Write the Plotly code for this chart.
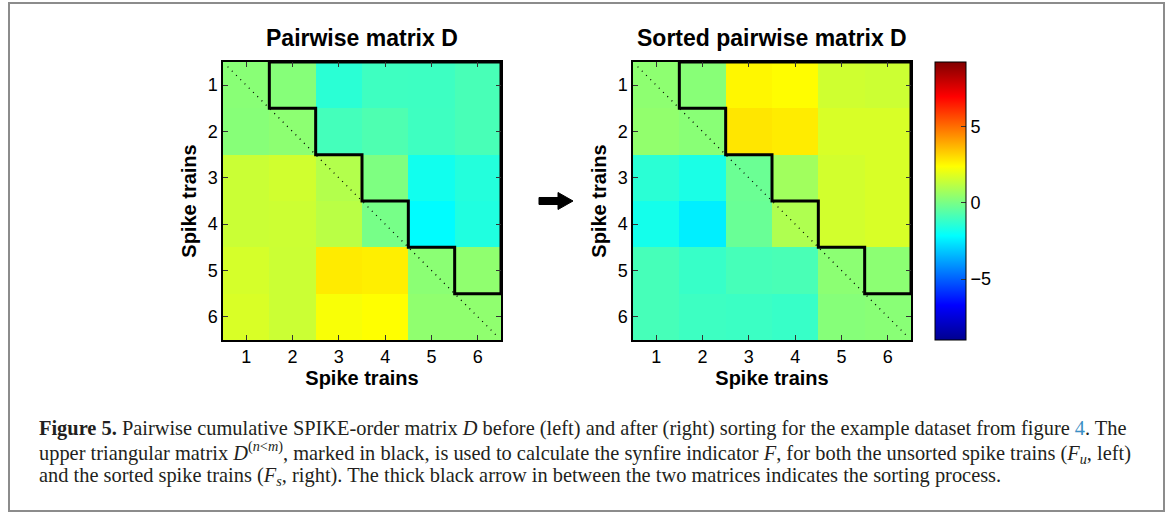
import plotly.graph_objects as go

W, H = 1171, 513

# Spike train indices (rows / columns of the matrices)
trains = [1, 2, 3, 4, 5, 6]
tick_labels = ["1", "2", "3", "4", "5", "6"]

# Pairwise cumulative SPIKE-order matrix D (unsorted), row-major, top row first
D_unsorted = [
    [0.30, 0.24, -1.41, -1.04, -1.06, -0.87],
    [0.26, 0.36, -0.94, -0.76, -1.04, -0.87],
    [1.45, 1.57, 1.04, 0.09, -1.85, -1.53],
    [1.45, 1.50, 1.17, -0.03, -2.20, -1.60],
    [1.65, 1.48, 2.76, 2.70, 0.33, 0.42],
    [1.73, 1.48, 2.30, 2.40, 0.42, 0.42],
]

# Same matrix after sorting the spike trains
D_sorted = [
    [0.38, 0.27, 2.55, 2.45, 1.55, 1.50],
    [0.45, 0.30, 2.85, 2.75, 1.70, 1.70],
    [-1.40, -1.70, -0.25, 0.72, 1.60, 1.70],
    [-1.80, -2.45, -0.28, 0.97, 1.60, 1.70],
    [-0.90, -1.17, -0.90, -0.85, 0.35, 0.35],
    [-0.90, -1.07, -1.10, -1.17, 0.24, 0.29],
]

color_min, color_max = -9.0, 9.25
colorbar_ticks = [-5, 0, 5]

panel_titles = ["Pairwise matrix D", "Sorted pairwise matrix D"]
axis_title = "Spike trains"

caption_lines = [
    "<b>Figure 5.</b> Pairwise cumulative SPIKE-order matrix <i>D</i> before (left) and after (right) "
    "sorting for the example dataset from figure <span style='color:#3b8fc4'>4</span>. The",
    "upper triangular matrix <i>D</i><sup>(<i>n</i>&lt;<i>m</i>)</sup>, marked in black, is used to "
    "calculate the synfire indicator <i>F</i>, for both the unsorted spike trains (<i>F</i><sub><i>u</i></sub>, left)",
    "and the sorted spike trains (<i>F</i><sub><i>s</i></sub>, right). The thick black arrow in between "
    "the two matrices indicates the sorting process.",
]

# MATLAB-style jet colormap
jet = [
    [0.0, "rgb(0,0,143)"],
    [0.125, "rgb(0,0,255)"],
    [0.375, "rgb(0,255,255)"],
    [0.625, "rgb(255,255,0)"],
    [0.875, "rgb(255,0,0)"],
    [1.0, "rgb(128,0,0)"],
]


def px(x):
    return x / W


def py(y):
    return 1 - y / H


# Panel placement in pixels
panel_left = [223, 633]
panel_w = 278
panel_top, panel_bottom = 62, 340

SANS = "Liberation Sans, Arial, sans-serif"
SERIF = "Liberation Serif, Times New Roman, serif"

fig = go.Figure()

# Staircase outline of the upper triangle (n < m)
n = len(trains)
stair_x = [1.5, n + 0.5, n + 0.5]
stair_y = [0.5, 0.5, n - 0.5]
for k in range(n - 1, 0, -1):
    stair_x += [k + 0.5, k + 0.5]
    stair_y += [k + 0.5, k - 0.5]
stair_x.append(1.5)
stair_y.append(0.5)

for i, (mat, title) in enumerate(zip([D_unsorted, D_sorted], panel_titles)):
    xa = "x" if i == 0 else "x2"
    ya = "y" if i == 0 else "y2"
    fig.add_trace(go.Heatmap(
        z=mat, x=trains, y=trains, coloraxis="coloraxis",
        xaxis=xa, yaxis=ya, hoverinfo="skip",
    ))
    # dotted main diagonal
    fig.add_trace(go.Scatter(
        x=[0.6, n + 0.4], y=[0.6, n + 0.4], mode="lines",
        line=dict(color="black", width=1.3, dash="1px,5px"),
        xaxis=xa, yaxis=ya, showlegend=False, hoverinfo="skip",
    ))
    fig.add_trace(go.Scatter(
        x=stair_x, y=stair_y, mode="lines",
        line=dict(color="black", width=3),
        xaxis=xa, yaxis=ya, showlegend=False, hoverinfo="skip",
    ))
    cx = panel_left[i] + panel_w / 2
    fig.add_annotation(
        x=px(cx), y=py(38), xref="paper", yref="paper",
        text=f"<b>{title}</b>", showarrow=False,
        font=dict(family=SANS, size=23, color="black"),
        xanchor="center", yanchor="middle",
    )

axis_common = dict(
    range=[0.5, n + 0.5], tickvals=trains, ticktext=tick_labels,
    ticks="inside", ticklen=5, tickwidth=1, tickcolor="#333",
    showline=True, linecolor="black", linewidth=1.5, mirror="ticks",
    showgrid=False, zeroline=False,
    tickfont=dict(family=SANS, size=18, color="black"),
)

layout_axes = {}
for i in range(2):
    sx = "" if i == 0 else "2"
    layout_axes[f"xaxis{sx}"] = dict(
        axis_common,
        domain=[px(panel_left[i]), px(panel_left[i] + panel_w)],
        anchor=f"y{sx}",
        title=dict(text=f"<b>{axis_title}</b>", standoff=4,
                   font=dict(family=SANS, size=20, color="black")),
    )
    layout_axes[f"yaxis{sx}"] = dict(
        axis_common,
        range=[n + 0.5, 0.5],
        domain=[py(panel_bottom), py(panel_top)],
        anchor=f"x{sx}",
        title=dict(text=f"<b>{axis_title}</b>", standoff=6,
                   font=dict(family=SANS, size=20, color="black")),
    )

fig.update_layout(
    width=W, height=H,
    margin=dict(l=0, r=0, t=0, b=0),
    paper_bgcolor="white", plot_bgcolor="white",
    coloraxis=dict(
        colorscale=jet, cmin=color_min, cmax=color_max,
        colorbar=dict(
            x=px(935), xanchor="left", xref="paper", xpad=0, ypad=0,
            y=py((panel_top + panel_bottom) / 2), yanchor="middle",
            thickness=31, thicknessmode="pixels",
            len=(panel_bottom - panel_top) / H, lenmode="fraction",
            outlinecolor="black", outlinewidth=1,
            tickvals=colorbar_ticks, ticks="inside", ticklen=5,
            tickcolor="#333",
            tickfont=dict(family=SANS, size=18, color="black"),
        ),
    ),
    **layout_axes,
)

# Sorting arrow between the two panels
arrow_pts = [(539, 197.5), (558, 197.5), (558, 192.5), (573, 201),
             (558, 209.5), (558, 204.5), (539, 204.5)]
arrow_path = "M " + " L ".join(f"{px(x):.5f},{py(y):.5f}" for x, y in arrow_pts) + " Z"
fig.add_shape(type="path", path=arrow_path, xref="paper", yref="paper",
              fillcolor="black", line=dict(color="black", width=1))

# Outer frame
fig.add_shape(type="rect", xref="paper", yref="paper",
              x0=px(9), x1=px(1164), y0=py(511), y1=py(3),
              line=dict(color="#8c8c8c", width=2))

# Caption
for k, line in enumerate(caption_lines):
    fig.add_annotation(
        x=px(37), y=py(428 + 24 * k), xref="paper", yref="paper",
        text=line, showarrow=False, xanchor="left", yanchor="middle",
        font=dict(family=SERIF, size=20.4, color="#231f20"),
    )

fig.write_html("out.html")
